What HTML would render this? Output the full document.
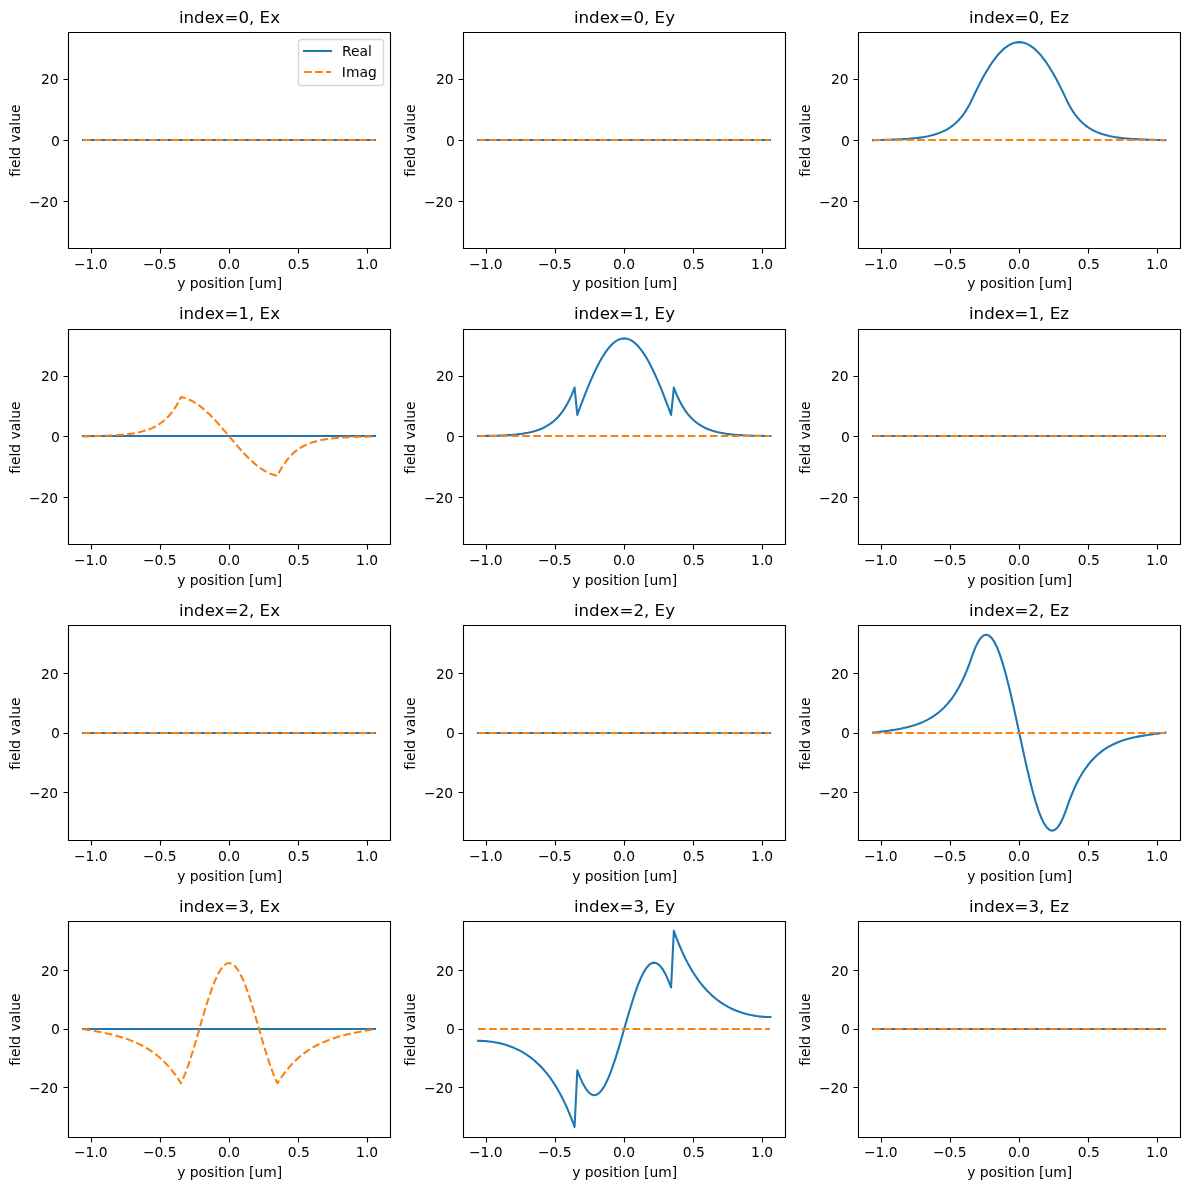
<!DOCTYPE html>
<html><head><meta charset="utf-8"><title>Mode field profiles</title>
<style>html,body{margin:0;padding:0;background:#fff}
svg{display:block;will-change:transform}
text{font-family:'DejaVu Sans','Liberation Sans',sans-serif;fill:#000;font-variant-ligatures:none}
.t{font-size:13.889px}.T{font-size:16.667px}</style></head><body>
<svg width="1190" height="1190" viewBox="0 0 1190 1190">
<rect width="1190" height="1190" fill="#fff"/>
<clipPath id="c00"><rect x="68.4" y="32.33" width="321.6" height="215.64"/></clipPath>
<g clip-path="url(#c00)" fill="none" stroke-width="2.0833" stroke-linejoin="round">
<path d="M83 140 L375 140" stroke="#1f77b4" stroke-linecap="square"/>
<path d="M83 140 L375 140" stroke="#ff7f0e" stroke-linecap="butt" stroke-dasharray="7.708 3.333"/>
</g>
<path d="M91.5 248.5 V253.5 M160.5 248.5 V253.5 M229.5 248.5 V253.5 M298.5 248.5 V253.5 M367.5 248.5 V253.5 M68.5 201.5 H63.5 M68.5 140.5 H63.5 M68.5 79.5 H63.5" stroke="#000" stroke-width="1.1111" fill="none"/>
<path d="M68.5 248.5 V32.5 M390.5 248.5 V32.5 M68.5 248.5 H390.5 M68.5 32.5 H390.5" stroke="#000" stroke-width="1.1111" stroke-linecap="square" fill="none"/>
<clipPath id="c01"><rect x="463.4" y="32.33" width="321.6" height="215.64"/></clipPath>
<g clip-path="url(#c01)" fill="none" stroke-width="2.0833" stroke-linejoin="round">
<path d="M478 140 L770 140" stroke="#1f77b4" stroke-linecap="square"/>
<path d="M478 140 L770 140" stroke="#ff7f0e" stroke-linecap="butt" stroke-dasharray="7.708 3.333"/>
</g>
<path d="M486.5 248.5 V253.5 M555.5 248.5 V253.5 M624.5 248.5 V253.5 M693.5 248.5 V253.5 M762.5 248.5 V253.5 M463.5 201.5 H458.5 M463.5 140.5 H458.5 M463.5 79.5 H458.5" stroke="#000" stroke-width="1.1111" fill="none"/>
<path d="M463.5 248.5 V32.5 M785.5 248.5 V32.5 M463.5 248.5 H785.5 M463.5 32.5 H785.5" stroke="#000" stroke-width="1.1111" stroke-linecap="square" fill="none"/>
<clipPath id="c02"><rect x="858.4" y="32.33" width="321.6" height="215.64"/></clipPath>
<g clip-path="url(#c02)" fill="none" stroke-width="2.0833" stroke-linejoin="round">
<path d="M873.02 140.15 L875.78 140.09 L878.54 140.03 L881.3 139.96 L884.05 139.89 L886.81 139.81 L889.57 139.73 L892.33 139.64 L895.09 139.53 L897.84 139.41 L900.6 139.28 L903.36 139.13 L906.12 138.96 L908.88 138.76 L911.63 138.53 L914.39 138.26 L917.15 137.96 L919.91 137.61 L922.67 137.2 L925.43 136.73 L928.18 136.19 L930.94 135.56 L933.7 134.83 L936.46 133.99 L939.22 133.02 L941.97 131.9 L944.73 130.59 L947.49 129.09 L950.25 127.34 L953.01 125.32 L955.76 122.99 L958.52 120.28 L961.28 117.15 L964.04 113.53 L966.8 109.33 L969.56 104.48 L972.31 98.86 L975.07 93.02 L977.83 87.38 L980.59 81.99 L983.35 76.85 L986.1 71.99 L988.86 67.44 L991.62 63.21 L994.38 59.33 L997.14 55.81 L999.89 52.66 L1002.65 49.91 L1005.41 47.55 L1008.17 45.62 L1010.93 44.1 L1013.69 43.01 L1016.44 42.35 L1019.2 42.14 L1021.96 42.35 L1024.72 43.01 L1027.48 44.1 L1030.23 45.62 L1032.99 47.55 L1035.75 49.91 L1038.51 52.66 L1041.27 55.81 L1044.02 59.33 L1046.78 63.21 L1049.54 67.44 L1052.3 71.99 L1055.06 76.85 L1057.82 81.99 L1060.57 87.38 L1063.33 93.02 L1066.09 98.86 L1068.85 104.48 L1071.61 109.33 L1074.36 113.53 L1077.12 117.15 L1079.88 120.28 L1082.64 122.99 L1085.4 125.32 L1088.15 127.34 L1090.91 129.09 L1093.67 130.59 L1096.43 131.9 L1099.19 133.02 L1101.95 133.99 L1104.7 134.83 L1107.46 135.56 L1110.22 136.19 L1112.98 136.73 L1115.74 137.2 L1118.49 137.61 L1121.25 137.96 L1124.01 138.26 L1126.77 138.53 L1129.53 138.76 L1132.28 138.96 L1135.04 139.13 L1137.8 139.28 L1140.56 139.41 L1143.32 139.53 L1146.08 139.64 L1148.83 139.73 L1151.59 139.81 L1154.35 139.89 L1157.11 139.96 L1159.87 140.03 L1162.62 140.09 L1165.38 140.15" stroke="#1f77b4" stroke-linecap="square"/>
<path d="M873 140 L1165 140" stroke="#ff7f0e" stroke-linecap="butt" stroke-dasharray="7.708 3.333"/>
</g>
<path d="M881.5 248.5 V253.5 M950.5 248.5 V253.5 M1019.5 248.5 V253.5 M1088.5 248.5 V253.5 M1157.5 248.5 V253.5 M858.5 201.5 H853.5 M858.5 140.5 H853.5 M858.5 79.5 H853.5" stroke="#000" stroke-width="1.1111" fill="none"/>
<path d="M858.5 248.5 V32.5 M1180.5 248.5 V32.5 M858.5 248.5 H1180.5 M858.5 32.5 H1180.5" stroke="#000" stroke-width="1.1111" stroke-linecap="square" fill="none"/>
<clipPath id="c10"><rect x="68.4" y="328.58" width="321.6" height="215.64"/></clipPath>
<g clip-path="url(#c10)" fill="none" stroke-width="2.0833" stroke-linejoin="round">
<path d="M83 436 L375 436" stroke="#1f77b4" stroke-linecap="square"/>
<path d="M83.02 436.4 L85.78 436.34 L88.54 436.28 L91.3 436.21 L94.05 436.15 L96.81 436.07 L99.57 435.99 L102.33 435.9 L105.09 435.8 L107.84 435.68 L110.6 435.55 L113.36 435.4 L116.12 435.23 L118.88 435.03 L121.63 434.8 L124.39 434.54 L127.15 434.23 L129.91 433.88 L132.67 433.47 L135.43 433 L138.18 432.45 L140.94 431.82 L143.7 431.09 L146.46 430.24 L149.22 429.25 L151.97 428.11 L154.73 426.78 L157.49 425.25 L160.25 423.47 L163.01 421.4 L165.76 419.01 L168.52 416.23 L171.28 413.01 L174.04 409.28 L176.8 404.96 L179.56 399.94 L180.93 397.14 L182.31 397.38 L185.07 398.07 L187.83 399.02 L190.59 400.22 L193.35 401.67 L196.1 403.35 L198.86 405.25 L201.62 407.37 L204.38 409.68 L207.14 412.17 L209.89 414.83 L212.65 417.63 L215.41 420.56 L218.17 423.6 L220.93 426.72 L223.69 429.91 L226.44 433.15 L229.2 436.4 L231.96 439.66 L234.72 442.89 L237.48 446.08 L240.23 449.2 L242.99 452.24 L245.75 455.17 L248.51 457.97 L251.27 460.63 L254.02 463.12 L256.78 465.44 L259.54 467.55 L262.3 469.46 L265.06 471.14 L267.82 472.58 L270.57 473.79 L273.33 474.73 L276.09 475.42 L277.47 475.67 L278.85 472.87 L281.61 467.85 L284.36 463.52 L287.12 459.79 L289.88 456.57 L292.64 453.8 L295.4 451.4 L298.15 449.34 L300.91 447.56 L303.67 446.02 L306.43 444.7 L309.19 443.56 L311.95 442.57 L314.7 441.72 L317.46 440.99 L320.22 440.35 L322.98 439.81 L325.74 439.33 L328.49 438.93 L331.25 438.57 L334.01 438.27 L336.77 438.01 L339.53 437.78 L342.28 437.58 L345.04 437.41 L347.8 437.26 L350.56 437.13 L353.32 437.01 L356.08 436.91 L358.83 436.82 L361.59 436.73 L364.35 436.66 L367.11 436.59 L369.87 436.53 L372.62 436.46 L375.38 436.4" stroke="#ff7f0e" stroke-linecap="butt" stroke-dasharray="7.708 3.333"/>
</g>
<path d="M91.5 544.5 V549.5 M160.5 544.5 V549.5 M229.5 544.5 V549.5 M298.5 544.5 V549.5 M367.5 544.5 V549.5 M68.5 497.5 H63.5 M68.5 436.5 H63.5 M68.5 376.5 H63.5" stroke="#000" stroke-width="1.1111" fill="none"/>
<path d="M68.5 544.5 V329.5 M390.5 544.5 V329.5 M68.5 544.5 H390.5 M68.5 329.5 H390.5" stroke="#000" stroke-width="1.1111" stroke-linecap="square" fill="none"/>
<clipPath id="c11"><rect x="463.4" y="328.58" width="321.6" height="215.64"/></clipPath>
<g clip-path="url(#c11)" fill="none" stroke-width="2.0833" stroke-linejoin="round">
<path d="M478.02 435.96 L480.78 435.95 L483.54 435.94 L486.3 435.91 L489.05 435.87 L491.81 435.82 L494.57 435.76 L497.33 435.68 L500.09 435.58 L502.84 435.46 L505.6 435.32 L508.36 435.16 L511.12 434.96 L513.88 434.73 L516.63 434.46 L519.39 434.15 L522.15 433.78 L524.91 433.34 L527.67 432.84 L530.43 432.25 L533.18 431.56 L535.94 430.76 L538.7 429.82 L541.46 428.72 L544.22 427.44 L546.97 425.95 L549.73 424.21 L552.49 422.18 L555.25 419.81 L558.01 417.05 L560.76 413.82 L563.52 410.06 L566.28 405.67 L569.04 400.54 L571.8 394.57 L574.56 387.59 L577.31 414.92 L580.07 407.4 L582.83 400.06 L585.59 392.96 L588.35 386.13 L591.1 379.61 L593.86 373.45 L596.62 367.69 L599.38 362.36 L602.14 357.5 L604.89 353.14 L607.65 349.3 L610.41 346.01 L613.17 343.29 L615.93 341.15 L618.69 339.62 L621.44 338.69 L624.2 338.39 L626.96 338.69 L629.72 339.62 L632.48 341.15 L635.23 343.29 L637.99 346.01 L640.75 349.3 L643.51 353.14 L646.27 357.5 L649.02 362.36 L651.78 367.69 L654.54 373.45 L657.3 379.61 L660.06 386.13 L662.82 392.96 L665.57 400.06 L668.33 407.4 L671.09 414.92 L673.85 387.59 L676.61 394.57 L679.36 400.54 L682.12 405.67 L684.88 410.06 L687.64 413.82 L690.4 417.05 L693.15 419.81 L695.91 422.18 L698.67 424.21 L701.43 425.95 L704.19 427.44 L706.95 428.72 L709.7 429.82 L712.46 430.76 L715.22 431.56 L717.98 432.25 L720.74 432.84 L723.49 433.34 L726.25 433.78 L729.01 434.15 L731.77 434.46 L734.53 434.73 L737.28 434.96 L740.04 435.16 L742.8 435.32 L745.56 435.46 L748.32 435.58 L751.08 435.68 L753.83 435.76 L756.59 435.82 L759.35 435.87 L762.11 435.91 L764.87 435.94 L767.62 435.95 L770.38 435.96" stroke="#1f77b4" stroke-linecap="square"/>
<path d="M478 436 L770 436" stroke="#ff7f0e" stroke-linecap="butt" stroke-dasharray="7.708 3.333"/>
</g>
<path d="M486.5 544.5 V549.5 M555.5 544.5 V549.5 M624.5 544.5 V549.5 M693.5 544.5 V549.5 M762.5 544.5 V549.5 M463.5 497.5 H458.5 M463.5 436.5 H458.5 M463.5 376.5 H458.5" stroke="#000" stroke-width="1.1111" fill="none"/>
<path d="M463.5 544.5 V329.5 M785.5 544.5 V329.5 M463.5 544.5 H785.5 M463.5 329.5 H785.5" stroke="#000" stroke-width="1.1111" stroke-linecap="square" fill="none"/>
<clipPath id="c12"><rect x="858.4" y="328.58" width="321.6" height="215.64"/></clipPath>
<g clip-path="url(#c12)" fill="none" stroke-width="2.0833" stroke-linejoin="round">
<path d="M873 436 L1165 436" stroke="#1f77b4" stroke-linecap="square"/>
<path d="M873 436 L1165 436" stroke="#ff7f0e" stroke-linecap="butt" stroke-dasharray="7.708 3.333"/>
</g>
<path d="M881.5 544.5 V549.5 M950.5 544.5 V549.5 M1019.5 544.5 V549.5 M1088.5 544.5 V549.5 M1157.5 544.5 V549.5 M858.5 497.5 H853.5 M858.5 436.5 H853.5 M858.5 376.5 H853.5" stroke="#000" stroke-width="1.1111" fill="none"/>
<path d="M858.5 544.5 V329.5 M1180.5 544.5 V329.5 M858.5 544.5 H1180.5 M858.5 329.5 H1180.5" stroke="#000" stroke-width="1.1111" stroke-linecap="square" fill="none"/>
<clipPath id="c20"><rect x="68.4" y="624.83" width="321.6" height="215.64"/></clipPath>
<g clip-path="url(#c20)" fill="none" stroke-width="2.0833" stroke-linejoin="round">
<path d="M83 733 L375 733" stroke="#1f77b4" stroke-linecap="square"/>
<path d="M83 733 L375 733" stroke="#ff7f0e" stroke-linecap="butt" stroke-dasharray="7.708 3.333"/>
</g>
<path d="M91.5 840.5 V845.5 M160.5 840.5 V845.5 M229.5 840.5 V845.5 M298.5 840.5 V845.5 M367.5 840.5 V845.5 M68.5 792.5 H63.5 M68.5 733.5 H63.5 M68.5 673.5 H63.5" stroke="#000" stroke-width="1.1111" fill="none"/>
<path d="M68.5 840.5 V625.5 M390.5 840.5 V625.5 M68.5 840.5 H390.5 M68.5 625.5 H390.5" stroke="#000" stroke-width="1.1111" stroke-linecap="square" fill="none"/>
<clipPath id="c21"><rect x="463.4" y="624.83" width="321.6" height="215.64"/></clipPath>
<g clip-path="url(#c21)" fill="none" stroke-width="2.0833" stroke-linejoin="round">
<path d="M478 733 L770 733" stroke="#1f77b4" stroke-linecap="square"/>
<path d="M478 733 L770 733" stroke="#ff7f0e" stroke-linecap="butt" stroke-dasharray="7.708 3.333"/>
</g>
<path d="M486.5 840.5 V845.5 M555.5 840.5 V845.5 M624.5 840.5 V845.5 M693.5 840.5 V845.5 M762.5 840.5 V845.5 M463.5 792.5 H458.5 M463.5 733.5 H458.5 M463.5 673.5 H458.5" stroke="#000" stroke-width="1.1111" fill="none"/>
<path d="M463.5 840.5 V625.5 M785.5 840.5 V625.5 M463.5 840.5 H785.5 M463.5 625.5 H785.5" stroke="#000" stroke-width="1.1111" stroke-linecap="square" fill="none"/>
<clipPath id="c22"><rect x="858.4" y="624.83" width="321.6" height="215.64"/></clipPath>
<g clip-path="url(#c22)" fill="none" stroke-width="2.0833" stroke-linejoin="round">
<path d="M873.02 732.65 L875.78 732.32 L878.54 731.99 L881.3 731.65 L884.05 731.3 L886.81 730.93 L889.57 730.54 L892.33 730.12 L895.09 729.68 L897.84 729.2 L900.6 728.67 L903.36 728.1 L906.12 727.48 L908.88 726.79 L911.63 726.03 L914.39 725.2 L917.15 724.27 L919.91 723.24 L922.67 722.1 L925.43 720.83 L928.18 719.42 L930.94 717.85 L933.7 716.1 L936.46 714.16 L939.22 711.99 L941.97 709.57 L944.73 706.88 L947.49 703.87 L950.25 700.52 L953.01 696.78 L955.76 692.62 L958.52 687.97 L961.28 682.78 L964.04 676.99 L966.8 670.54 L969.56 663.33 L972.31 655.37 L975.07 648.14 L977.83 642.36 L980.59 638.14 L983.35 635.55 L986.1 634.64 L988.86 635.41 L991.62 637.86 L994.38 641.94 L997.14 647.58 L999.89 654.69 L1002.65 663.15 L1005.41 672.8 L1008.17 683.48 L1010.93 695.01 L1013.69 707.19 L1016.44 719.81 L1019.2 732.65 L1021.96 745.49 L1024.72 758.11 L1027.48 770.29 L1030.23 781.82 L1032.99 792.51 L1035.75 802.16 L1038.51 810.61 L1041.27 817.72 L1044.02 823.37 L1046.78 827.45 L1049.54 829.9 L1052.3 830.67 L1055.06 829.75 L1057.82 827.16 L1060.57 822.94 L1063.33 817.17 L1066.09 809.94 L1068.85 801.97 L1071.61 794.77 L1074.36 788.31 L1077.12 782.53 L1079.88 777.34 L1082.64 772.69 L1085.4 768.52 L1088.15 764.78 L1090.91 761.43 L1093.67 758.43 L1096.43 755.73 L1099.19 753.32 L1101.95 751.15 L1104.7 749.2 L1107.46 747.45 L1110.22 745.89 L1112.98 744.47 L1115.74 743.21 L1118.49 742.07 L1121.25 741.04 L1124.01 740.11 L1126.77 739.27 L1129.53 738.51 L1132.28 737.83 L1135.04 737.2 L1137.8 736.63 L1140.56 736.11 L1143.32 735.63 L1146.08 735.18 L1148.83 734.77 L1151.59 734.38 L1154.35 734.01 L1157.11 733.65 L1159.87 733.31 L1162.62 732.98 L1165.38 732.65" stroke="#1f77b4" stroke-linecap="square"/>
<path d="M873 733 L1165 733" stroke="#ff7f0e" stroke-linecap="butt" stroke-dasharray="7.708 3.333"/>
</g>
<path d="M881.5 840.5 V845.5 M950.5 840.5 V845.5 M1019.5 840.5 V845.5 M1088.5 840.5 V845.5 M1157.5 840.5 V845.5 M858.5 792.5 H853.5 M858.5 733.5 H853.5 M858.5 673.5 H853.5" stroke="#000" stroke-width="1.1111" fill="none"/>
<path d="M858.5 840.5 V625.5 M1180.5 840.5 V625.5 M858.5 840.5 H1180.5 M858.5 625.5 H1180.5" stroke="#000" stroke-width="1.1111" stroke-linecap="square" fill="none"/>
<clipPath id="c30"><rect x="68.4" y="921.08" width="321.6" height="215.64"/></clipPath>
<g clip-path="url(#c30)" fill="none" stroke-width="2.0833" stroke-linejoin="round">
<path d="M83 1029 L375 1029" stroke="#1f77b4" stroke-linecap="square"/>
<path d="M83.02 1028.9 L85.78 1029.39 L88.54 1029.88 L91.3 1030.37 L94.05 1030.88 L96.81 1031.4 L99.57 1031.94 L102.33 1032.49 L105.09 1033.07 L107.84 1033.68 L110.6 1034.32 L113.36 1035 L116.12 1035.72 L118.88 1036.49 L121.63 1037.3 L124.39 1038.17 L127.15 1039.11 L129.91 1040.11 L132.67 1041.19 L135.43 1042.35 L138.18 1043.61 L140.94 1044.96 L143.7 1046.42 L146.46 1048 L149.22 1049.71 L151.97 1051.55 L154.73 1053.55 L157.49 1055.72 L160.25 1058.07 L163.01 1060.61 L165.76 1063.37 L168.52 1066.36 L171.28 1069.6 L174.04 1073.12 L176.8 1076.93 L179.56 1081.07 L180.93 1083.27 L182.31 1080.43 L185.07 1073.95 L187.83 1066.53 L190.59 1058.31 L193.35 1049.48 L196.1 1040.21 L198.86 1030.7 L201.62 1021.15 L204.38 1011.77 L207.14 1002.75 L209.89 994.28 L212.65 986.54 L215.41 979.69 L218.17 973.88 L220.93 969.22 L223.69 965.83 L226.44 963.76 L229.2 963.07 L231.96 963.76 L234.72 965.83 L237.48 969.22 L240.23 973.88 L242.99 979.69 L245.75 986.54 L248.51 994.28 L251.27 1002.75 L254.02 1011.77 L256.78 1021.15 L259.54 1030.7 L262.3 1040.21 L265.06 1049.48 L267.82 1058.31 L270.57 1066.53 L273.33 1073.95 L276.09 1080.43 L277.47 1083.27 L278.85 1081.07 L281.61 1076.93 L284.36 1073.12 L287.12 1069.6 L289.88 1066.36 L292.64 1063.37 L295.4 1060.61 L298.15 1058.07 L300.91 1055.72 L303.67 1053.55 L306.43 1051.55 L309.19 1049.71 L311.95 1048 L314.7 1046.42 L317.46 1044.96 L320.22 1043.61 L322.98 1042.35 L325.74 1041.19 L328.49 1040.11 L331.25 1039.11 L334.01 1038.17 L336.77 1037.3 L339.53 1036.49 L342.28 1035.72 L345.04 1035 L347.8 1034.32 L350.56 1033.68 L353.32 1033.07 L356.08 1032.49 L358.83 1031.94 L361.59 1031.4 L364.35 1030.88 L367.11 1030.37 L369.87 1029.88 L372.62 1029.39 L375.38 1028.9" stroke="#ff7f0e" stroke-linecap="butt" stroke-dasharray="7.708 3.333"/>
</g>
<path d="M91.5 1137.5 V1142.5 M160.5 1137.5 V1142.5 M229.5 1137.5 V1142.5 M298.5 1137.5 V1142.5 M367.5 1137.5 V1142.5 M68.5 1087.5 H63.5 M68.5 1029.5 H63.5 M68.5 970.5 H63.5" stroke="#000" stroke-width="1.1111" fill="none"/>
<path d="M68.5 1137.5 V921.5 M390.5 1137.5 V921.5 M68.5 1137.5 H390.5 M68.5 921.5 H390.5" stroke="#000" stroke-width="1.1111" stroke-linecap="square" fill="none"/>
<clipPath id="c31"><rect x="463.4" y="921.08" width="321.6" height="215.64"/></clipPath>
<g clip-path="url(#c31)" fill="none" stroke-width="2.0833" stroke-linejoin="round">
<path d="M478.02 1040.81 L480.78 1040.85 L483.54 1040.96 L486.3 1041.16 L489.05 1041.42 L491.81 1041.77 L494.57 1042.21 L497.33 1042.72 L500.09 1043.33 L502.84 1044.03 L505.6 1044.82 L508.36 1045.72 L511.12 1046.72 L513.88 1047.84 L516.63 1049.08 L519.39 1050.44 L522.15 1051.95 L524.91 1053.6 L527.67 1055.41 L530.43 1057.39 L533.18 1059.55 L535.94 1061.91 L538.7 1064.48 L541.46 1067.28 L544.22 1070.32 L546.97 1073.62 L549.73 1077.21 L552.49 1081.11 L555.25 1085.35 L558.01 1089.94 L560.76 1094.93 L563.52 1100.34 L566.28 1106.2 L569.04 1112.56 L571.8 1119.45 L574.56 1126.92 L577.31 1070.4 L580.07 1077.43 L582.83 1083.44 L585.59 1088.31 L588.35 1091.93 L591.1 1094.23 L593.86 1095.16 L596.62 1094.69 L599.38 1092.85 L602.14 1089.66 L604.89 1085.2 L607.65 1079.56 L610.41 1072.85 L613.17 1065.22 L615.93 1056.83 L618.69 1047.85 L621.44 1038.48 L624.2 1028.9 L626.96 1019.33 L629.72 1009.95 L632.48 1000.98 L635.23 992.58 L637.99 984.96 L640.75 978.25 L643.51 972.61 L646.27 968.14 L649.02 964.96 L651.78 963.11 L654.54 962.65 L657.3 963.58 L660.06 965.88 L662.82 969.5 L665.57 974.36 L668.33 980.38 L671.09 987.41 L673.85 930.89 L676.61 938.36 L679.36 945.25 L682.12 951.61 L684.88 957.47 L687.64 962.88 L690.4 967.86 L693.15 972.46 L695.91 976.69 L698.67 980.59 L701.43 984.18 L704.19 987.49 L706.95 990.53 L709.7 993.33 L712.46 995.89 L715.22 998.25 L717.98 1000.41 L720.74 1002.39 L723.49 1004.2 L726.25 1005.86 L729.01 1007.36 L731.77 1008.73 L734.53 1009.97 L737.28 1011.08 L740.04 1012.09 L742.8 1012.98 L745.56 1013.78 L748.32 1014.48 L751.08 1015.08 L753.83 1015.6 L756.59 1016.03 L759.35 1016.38 L762.11 1016.65 L764.87 1016.84 L767.62 1016.96 L770.38 1016.99" stroke="#1f77b4" stroke-linecap="square"/>
<path d="M478 1029 L770 1029" stroke="#ff7f0e" stroke-linecap="butt" stroke-dasharray="7.708 3.333"/>
</g>
<path d="M486.5 1137.5 V1142.5 M555.5 1137.5 V1142.5 M624.5 1137.5 V1142.5 M693.5 1137.5 V1142.5 M762.5 1137.5 V1142.5 M463.5 1087.5 H458.5 M463.5 1029.5 H458.5 M463.5 970.5 H458.5" stroke="#000" stroke-width="1.1111" fill="none"/>
<path d="M463.5 1137.5 V921.5 M785.5 1137.5 V921.5 M463.5 1137.5 H785.5 M463.5 921.5 H785.5" stroke="#000" stroke-width="1.1111" stroke-linecap="square" fill="none"/>
<clipPath id="c32"><rect x="858.4" y="921.08" width="321.6" height="215.64"/></clipPath>
<g clip-path="url(#c32)" fill="none" stroke-width="2.0833" stroke-linejoin="round">
<path d="M873 1029 L1165 1029" stroke="#1f77b4" stroke-linecap="square"/>
<path d="M873 1029 L1165 1029" stroke="#ff7f0e" stroke-linecap="butt" stroke-dasharray="7.708 3.333"/>
</g>
<path d="M881.5 1137.5 V1142.5 M950.5 1137.5 V1142.5 M1019.5 1137.5 V1142.5 M1088.5 1137.5 V1142.5 M1157.5 1137.5 V1142.5 M858.5 1087.5 H853.5 M858.5 1029.5 H853.5 M858.5 970.5 H853.5" stroke="#000" stroke-width="1.1111" fill="none"/>
<path d="M858.5 1137.5 V921.5 M1180.5 1137.5 V921.5 M858.5 1137.5 H1180.5 M858.5 921.5 H1180.5" stroke="#000" stroke-width="1.1111" stroke-linecap="square" fill="none"/>
<path d="M 301.5 85.5 L 380.5 85.5 Q 383.5 85.5 383.5 83.5 L 383.5 42.5 Q 383.5 39.5 380.5 39.5 L 301.5 39.5 Q 298.5 39.5 298.5 42.5 L 298.5 83.5 Q 298.5 85.5 301.5 85.5 z" fill="#fff" fill-opacity="0.8" stroke="#ccc" stroke-opacity="0.8" stroke-width="1.3889" stroke-linejoin="miter"/>
<path d="M304 51 H331" stroke="#1f77b4" stroke-width="2.0833" stroke-linecap="square" fill="none"/>
<path d="M304 72 H331" stroke="#ff7f0e" stroke-width="2.0833" stroke-dasharray="7.708 3.333" fill="none"/>
<text class="t" x="90.8" y="268.5" text-anchor="middle">−1.0</text>
<text class="t" x="159.75" y="268.5" text-anchor="middle">−0.5</text>
<text class="t" x="228.95" y="268.5" text-anchor="middle">0.0</text>
<text class="t" x="298.9" y="268.5" text-anchor="middle">0.5</text>
<text class="t" x="367.11" y="268.5" text-anchor="middle">1.0</text>
<text class="t" x="229.7" y="287.5" text-anchor="middle">y position [um]</text>
<text class="t" x="58.18" y="206.69" text-anchor="end">−20</text>
<text class="t" x="59.93" y="145.68" text-anchor="end">0</text>
<text class="t" x="58.68" y="83.67" text-anchor="end">20</text>
<text class="t" x="19.67" y="140.65" text-anchor="middle" transform="rotate(-90 19.67 140.65)">field value</text>
<text class="T" x="229.45" y="22.5" text-anchor="middle">index=0, Ex</text>
<text class="t" x="342.05" y="55.58">Real</text>
<text class="t" x="341.8" y="76.53">Imag</text>
<text class="t" x="485.8" y="268.5" text-anchor="middle">−1.0</text>
<text class="t" x="554.75" y="268.5" text-anchor="middle">−0.5</text>
<text class="t" x="623.95" y="268.5" text-anchor="middle">0.0</text>
<text class="t" x="693.9" y="268.5" text-anchor="middle">0.5</text>
<text class="t" x="762.11" y="268.5" text-anchor="middle">1.0</text>
<text class="t" x="624.7" y="287.5" text-anchor="middle">y position [um]</text>
<text class="t" x="453.18" y="206.69" text-anchor="end">−20</text>
<text class="t" x="454.93" y="145.68" text-anchor="end">0</text>
<text class="t" x="453.68" y="83.67" text-anchor="end">20</text>
<text class="t" x="414.67" y="140.65" text-anchor="middle" transform="rotate(-90 414.67 140.65)">field value</text>
<text class="T" x="624.45" y="22.5" text-anchor="middle">index=0, Ey</text>
<text class="t" x="880.8" y="268.5" text-anchor="middle">−1.0</text>
<text class="t" x="949.75" y="268.5" text-anchor="middle">−0.5</text>
<text class="t" x="1018.95" y="268.5" text-anchor="middle">0.0</text>
<text class="t" x="1088.9" y="268.5" text-anchor="middle">0.5</text>
<text class="t" x="1157.11" y="268.5" text-anchor="middle">1.0</text>
<text class="t" x="1019.7" y="287.5" text-anchor="middle">y position [um]</text>
<text class="t" x="848.18" y="206.69" text-anchor="end">−20</text>
<text class="t" x="849.93" y="145.68" text-anchor="end">0</text>
<text class="t" x="848.68" y="83.67" text-anchor="end">20</text>
<text class="t" x="809.67" y="140.65" text-anchor="middle" transform="rotate(-90 809.67 140.65)">field value</text>
<text class="T" x="1018.95" y="22.5" text-anchor="middle">index=0, Ez</text>
<text class="t" x="90.8" y="564.5" text-anchor="middle">−1.0</text>
<text class="t" x="159.75" y="564.5" text-anchor="middle">−0.5</text>
<text class="t" x="228.95" y="564.5" text-anchor="middle">0.0</text>
<text class="t" x="298.9" y="564.5" text-anchor="middle">0.5</text>
<text class="t" x="367.11" y="564.5" text-anchor="middle">1.0</text>
<text class="t" x="229.7" y="584.5" text-anchor="middle">y position [um]</text>
<text class="t" x="58.18" y="502.72" text-anchor="end">−20</text>
<text class="t" x="59.93" y="441.68" text-anchor="end">0</text>
<text class="t" x="58.68" y="380.64" text-anchor="end">20</text>
<text class="t" x="19.67" y="437.65" text-anchor="middle" transform="rotate(-90 19.67 437.65)">field value</text>
<text class="T" x="229.45" y="318.5" text-anchor="middle">index=1, Ex</text>
<text class="t" x="485.8" y="564.5" text-anchor="middle">−1.0</text>
<text class="t" x="554.75" y="564.5" text-anchor="middle">−0.5</text>
<text class="t" x="623.95" y="564.5" text-anchor="middle">0.0</text>
<text class="t" x="693.9" y="564.5" text-anchor="middle">0.5</text>
<text class="t" x="762.11" y="564.5" text-anchor="middle">1.0</text>
<text class="t" x="624.7" y="584.5" text-anchor="middle">y position [um]</text>
<text class="t" x="453.18" y="502.72" text-anchor="end">−20</text>
<text class="t" x="454.93" y="441.68" text-anchor="end">0</text>
<text class="t" x="453.68" y="380.64" text-anchor="end">20</text>
<text class="t" x="414.67" y="437.65" text-anchor="middle" transform="rotate(-90 414.67 437.65)">field value</text>
<text class="T" x="624.45" y="318.5" text-anchor="middle">index=1, Ey</text>
<text class="t" x="880.8" y="564.5" text-anchor="middle">−1.0</text>
<text class="t" x="949.75" y="564.5" text-anchor="middle">−0.5</text>
<text class="t" x="1018.95" y="564.5" text-anchor="middle">0.0</text>
<text class="t" x="1088.9" y="564.5" text-anchor="middle">0.5</text>
<text class="t" x="1157.11" y="564.5" text-anchor="middle">1.0</text>
<text class="t" x="1019.7" y="584.5" text-anchor="middle">y position [um]</text>
<text class="t" x="848.18" y="502.72" text-anchor="end">−20</text>
<text class="t" x="849.93" y="441.68" text-anchor="end">0</text>
<text class="t" x="848.68" y="380.64" text-anchor="end">20</text>
<text class="t" x="809.67" y="437.65" text-anchor="middle" transform="rotate(-90 809.67 437.65)">field value</text>
<text class="T" x="1018.95" y="318.5" text-anchor="middle">index=1, Ez</text>
<text class="t" x="90.8" y="860.5" text-anchor="middle">−1.0</text>
<text class="t" x="159.75" y="860.5" text-anchor="middle">−0.5</text>
<text class="t" x="228.95" y="860.5" text-anchor="middle">0.0</text>
<text class="t" x="298.9" y="860.5" text-anchor="middle">0.5</text>
<text class="t" x="367.11" y="860.5" text-anchor="middle">1.0</text>
<text class="t" x="229.7" y="880.5" text-anchor="middle">y position [um]</text>
<text class="t" x="58.18" y="797.59" text-anchor="end">−20</text>
<text class="t" x="59.93" y="737.68" text-anchor="end">0</text>
<text class="t" x="58.68" y="678.52" text-anchor="end">20</text>
<text class="t" x="19.67" y="733.65" text-anchor="middle" transform="rotate(-90 19.67 733.65)">field value</text>
<text class="T" x="229.45" y="615.5" text-anchor="middle">index=2, Ex</text>
<text class="t" x="485.8" y="860.5" text-anchor="middle">−1.0</text>
<text class="t" x="554.75" y="860.5" text-anchor="middle">−0.5</text>
<text class="t" x="623.95" y="860.5" text-anchor="middle">0.0</text>
<text class="t" x="693.9" y="860.5" text-anchor="middle">0.5</text>
<text class="t" x="762.11" y="860.5" text-anchor="middle">1.0</text>
<text class="t" x="624.7" y="880.5" text-anchor="middle">y position [um]</text>
<text class="t" x="453.18" y="797.59" text-anchor="end">−20</text>
<text class="t" x="454.93" y="737.68" text-anchor="end">0</text>
<text class="t" x="453.68" y="678.52" text-anchor="end">20</text>
<text class="t" x="414.67" y="733.65" text-anchor="middle" transform="rotate(-90 414.67 733.65)">field value</text>
<text class="T" x="624.45" y="615.5" text-anchor="middle">index=2, Ey</text>
<text class="t" x="880.8" y="860.5" text-anchor="middle">−1.0</text>
<text class="t" x="949.75" y="860.5" text-anchor="middle">−0.5</text>
<text class="t" x="1018.95" y="860.5" text-anchor="middle">0.0</text>
<text class="t" x="1088.9" y="860.5" text-anchor="middle">0.5</text>
<text class="t" x="1157.11" y="860.5" text-anchor="middle">1.0</text>
<text class="t" x="1019.7" y="880.5" text-anchor="middle">y position [um]</text>
<text class="t" x="848.18" y="797.59" text-anchor="end">−20</text>
<text class="t" x="849.93" y="737.68" text-anchor="end">0</text>
<text class="t" x="848.68" y="678.52" text-anchor="end">20</text>
<text class="t" x="809.67" y="733.65" text-anchor="middle" transform="rotate(-90 809.67 733.65)">field value</text>
<text class="T" x="1018.95" y="615.5" text-anchor="middle">index=2, Ez</text>
<text class="t" x="90.8" y="1156.5" text-anchor="middle">−1.0</text>
<text class="t" x="159.75" y="1156.5" text-anchor="middle">−0.5</text>
<text class="t" x="228.95" y="1156.5" text-anchor="middle">0.0</text>
<text class="t" x="298.9" y="1156.5" text-anchor="middle">0.5</text>
<text class="t" x="367.11" y="1156.5" text-anchor="middle">1.0</text>
<text class="t" x="229.7" y="1176.5" text-anchor="middle">y position [um]</text>
<text class="t" x="58.18" y="1092.7" text-anchor="end">−20</text>
<text class="t" x="59.93" y="1033.68" text-anchor="end">0</text>
<text class="t" x="58.68" y="975.66" text-anchor="end">20</text>
<text class="t" x="19.67" y="1029.65" text-anchor="middle" transform="rotate(-90 19.67 1029.65)">field value</text>
<text class="T" x="229.45" y="911.5" text-anchor="middle">index=3, Ex</text>
<text class="t" x="485.8" y="1156.5" text-anchor="middle">−1.0</text>
<text class="t" x="554.75" y="1156.5" text-anchor="middle">−0.5</text>
<text class="t" x="623.95" y="1156.5" text-anchor="middle">0.0</text>
<text class="t" x="693.9" y="1156.5" text-anchor="middle">0.5</text>
<text class="t" x="762.11" y="1156.5" text-anchor="middle">1.0</text>
<text class="t" x="624.7" y="1176.5" text-anchor="middle">y position [um]</text>
<text class="t" x="453.18" y="1092.7" text-anchor="end">−20</text>
<text class="t" x="454.93" y="1033.68" text-anchor="end">0</text>
<text class="t" x="453.68" y="975.66" text-anchor="end">20</text>
<text class="t" x="414.67" y="1029.65" text-anchor="middle" transform="rotate(-90 414.67 1029.65)">field value</text>
<text class="T" x="624.45" y="911.5" text-anchor="middle">index=3, Ey</text>
<text class="t" x="880.8" y="1156.5" text-anchor="middle">−1.0</text>
<text class="t" x="949.75" y="1156.5" text-anchor="middle">−0.5</text>
<text class="t" x="1018.95" y="1156.5" text-anchor="middle">0.0</text>
<text class="t" x="1088.9" y="1156.5" text-anchor="middle">0.5</text>
<text class="t" x="1157.11" y="1156.5" text-anchor="middle">1.0</text>
<text class="t" x="1019.7" y="1176.5" text-anchor="middle">y position [um]</text>
<text class="t" x="848.18" y="1092.7" text-anchor="end">−20</text>
<text class="t" x="849.93" y="1033.68" text-anchor="end">0</text>
<text class="t" x="848.68" y="975.66" text-anchor="end">20</text>
<text class="t" x="809.67" y="1029.65" text-anchor="middle" transform="rotate(-90 809.67 1029.65)">field value</text>
<text class="T" x="1018.95" y="911.5" text-anchor="middle">index=3, Ez</text>
</svg>
</body></html>
